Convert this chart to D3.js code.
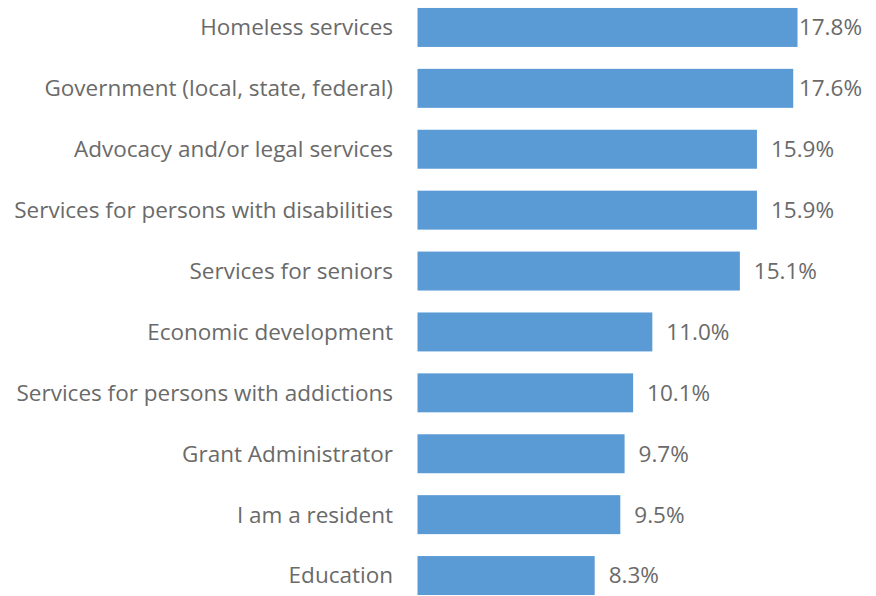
<!DOCTYPE html>
<html><head><meta charset="utf-8">
<script src="https://cdn.jsdelivr.net/npm/d3@7"></script>
<style>html,body{margin:0;padding:0;background:#fff;}</style>
</head><body>
<svg id="chart" width="876" height="596"></svg>
<script>
const categories = ["Homeless services","Government (local, state, federal)","Advocacy and/or legal services","Services for persons with disabilities","Services for seniors","Economic development","Services for persons with addictions","Grant Administrator","I am a resident","Education"];
const values = [17.8,17.6,15.9,15.9,15.1,11.0,10.1,9.7,9.5,8.3];

const W = 876, H = 596;
const svg = d3.select("#chart");
const x0 = 417.5;
const x = d3.scaleLinear().domain([0, 17.8]).range([x0, 797.5]);
const y = d3.scaleBand().domain(categories).range([-3, 606]).paddingInner(0.36).paddingOuter(0.18);

svg.append("g").selectAll("rect").data(categories).join("rect")
  .attr("x", x(0)).attr("y", d => y(d))
  .attr("width", (d,i) => x(values[i]) - x(0))
  .attr("height", y.bandwidth())
  .attr("fill", "#5b9bd5");

const font = "'Open Sans', sans-serif";
const fs = 22.5;
svg.append("g").selectAll("text").data(categories).join("text")
  .attr("x", 393).attr("y", d => y(d) + y.bandwidth()/2)
  .attr("dy", "0.35em").attr("text-anchor", "end")
  .attr("font-family", font).attr("font-size", fs).attr("fill", "#6a6a6a")
  .text(d => d);

svg.append("g").selectAll("text").data(categories).join("text")
  .attr("y", d => y(d) + y.bandwidth()/2)
  .attr("dy", "0.35em")
  .attr("font-family", font).attr("font-size", fs).attr("fill", "#6a6a6a")
  .text((d,i) => values[i].toFixed(1) + "%")
  .each(function(d,i){
    const w = this.getComputedTextLength();
    d3.select(this).attr("x", Math.min(x(values[i]) + 14, 862 - w));
  });
</script>
</body></html>
